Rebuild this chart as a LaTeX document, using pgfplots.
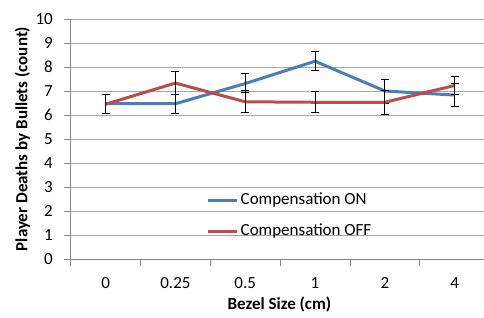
\documentclass[border=0pt]{standalone}
\usepackage{pgfplots}
\pgfplotsset{compat=1.18}
\usepackage{fontspec}
\setmainfont{Carlito}
\definecolor{blueS}{HTML}{4A7EBB}
\definecolor{redS}{HTML}{BE4B48}
\definecolor{gridc}{HTML}{A6A6A6}
\definecolor{axc}{HTML}{868686}
\newcommand{\ff}{\fontsize{17bp}{20bp}\selectfont}
\begin{document}
\begin{tikzpicture}
\path[use as bounding box] (-70.7bp,-59bp) rectangle (413.3bp,259bp);
\begin{axis}[
  at={(0,0)}, anchor=south west,
  scale only axis, width=413.3bp, height=240bp,
  xmin=-0.5, xmax=5.42, ymin=0, ymax=10,
  axis x line*=bottom, axis y line*=left,
  axis line style={axc, line width=0.9bp, -},
  ytick={0,1,...,10},
  xtick={0,...,5}, xticklabels={0,0.25,0.5,1,2,4},
  minor xtick={-0.5,0.5,1.5,2.5,3.5,4.5},
  major x tick style={draw=none},
  minor x tick style={axc, line width=0.9bp},
  major y tick style={axc, line width=0.9bp},
  tick align=outside,
  major tick length=7bp, minor tick length=7bp,
  ymajorgrids, grid style={gridc, line width=0.9bp},
  /pgf/number format/assume math mode=true,
  tick label style={font=\ff, black},
  yticklabel style={anchor=east, inner sep=0pt, xshift=-10.7bp},
  xticklabel style={anchor=base, inner sep=0pt, yshift=-22.5bp},
  xlabel={\textbf{Bezel Size (cm)}},
  ylabel={\textbf{Player Deaths by Bullets (count)}},
  xlabel style={font=\ff, at={(axis description cs:0.505,-0.19)}, anchor=center, inner sep=0pt},
  ylabel style={font=\ff, at={(axis description cs:-0.117,0.5)}, anchor=center, inner sep=0pt, rotate=0},
  legend style={at={(axis cs:1.448,1.80)}, anchor=west, draw=none, fill=none,
    inner sep=0pt, font=\ff, row sep=15bp, column sep=2bp,
    nodes={inner sep=0pt, text height=12bp, text depth=4bp}},
  legend cell align=left,
  legend image code/.code={\draw[#1, line width=2.8bp] (0bp,0bp) -- (29bp,0bp);},
  clip=false,
]
\addplot[blueS, line width=3bp, line join=round,
  error bars/.cd, y dir=both, y explicit,
  error bar style={black, line width=0.8bp},
  error mark options={rotate=90, mark size=4bp, black, line width=0.8bp}]
coordinates {
(0,6.47) +- (0,0.40)
(1,6.47) +- (0,0.40)
(2,7.31) += (0,0.42) -= (0,0.38)
(3,8.24) +- (0,0.40)
(4,7.00) +- (0,0.50)
(5,6.83) +- (0,0.47)
};
\addlegendentry{Compensation ON}
\addplot[redS, line width=3bp, line join=round,
  error bars/.cd, y dir=both, y explicit,
  error bar style={black, line width=0.8bp},
  error mark options={rotate=90, mark size=4bp, black, line width=0.8bp}]
coordinates {
(0,6.45) +- (0,0.40)
(1,7.33) +- (0,0.47)
(2,6.55) +- (0,0.46)
(3,6.53) +- (0,0.44)
(4,6.53) +- (0,0.50)
(5,7.23) +- (0,0.37)
};
\addlegendentry{Compensation OFF}
\end{axis}
\end{tikzpicture}
\end{document}
